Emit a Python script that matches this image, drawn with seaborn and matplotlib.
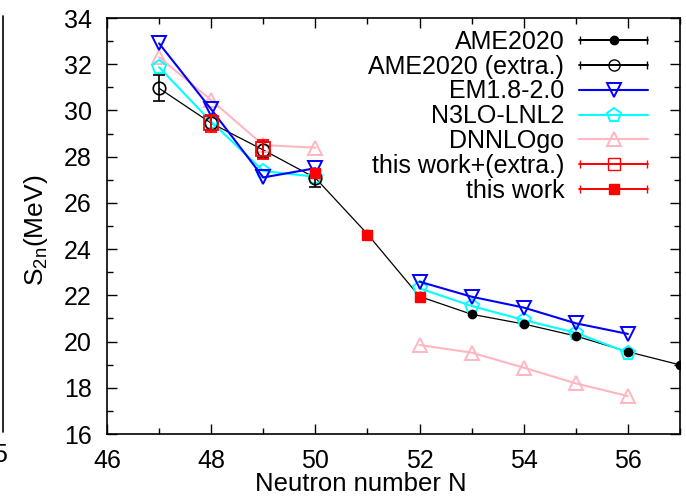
import numpy as np
import pandas as pd
import matplotlib
matplotlib.use("Agg")
import matplotlib.pyplot as plt
import seaborn as sns
from matplotlib.lines import Line2D
from matplotlib.collections import LineCollection
from matplotlib.container import ErrorbarContainer
from matplotlib.legend_handler import HandlerErrorbar
from matplotlib.ticker import MultipleLocator

# --- data ---
ame_N = [51, 52, 53, 54, 55, 56, 57]
ame_S = [24.65, 21.95, 21.18, 20.76, 20.24, 19.56, 18.99]
ame_err = [0.05, 0.05, 0.05, 0.05, 0.05, 0.05, 0.05]

ame_ex_N = [47, 48, 49, 50]
ame_ex_S = [30.96, 29.45, 28.29, 27.08]
ame_ex_err = [0.57, 0.30, 0.35, 0.40]

model_N = [47, 48, 49, 50, 52, 53, 54, 55, 56]
model_seg = [0, 0, 0, 0, 1, 1, 1, 1, 1]
em_S = [32.90, 30.05, 27.10, 27.50, 22.59, 21.94, 21.47, 20.79, 20.33]
n3lo_S = [31.87, 29.51, 27.38, 27.13, 22.30, 21.54, 20.93, 20.38, 19.52]
dnnlo_S = [32.30, 30.45, 28.50, 28.39, 19.85, 19.52, 18.87, 18.19, 17.64]

tw_ex_N = [48, 49]
tw_ex_S = [29.44, 28.32]
tw_ex_err = [0.38, 0.41]

tw_N = [50, 51, 52]
tw_S = [27.31, 24.60, 21.93]
tw_err = [0.10, 0.05, 0.05]

# --- style ---
sns.set_style("ticks")
plt.rcParams["font.family"] = ["Liberation Sans", "DejaVu Sans"]
plt.rcParams["mathtext.fontset"] = "custom"
plt.rcParams["mathtext.rm"] = "Liberation Sans"
plt.rcParams["mathtext.it"] = "Liberation Sans"
for k in ["text.color", "axes.labelcolor", "xtick.color", "ytick.color"]:
    plt.rcParams[k] = "black"

fig = plt.figure(figsize=(6.86, 4.96), dpi=100)
ax = fig.add_axes([107 / 686, 1 - 434 / 496, 573 / 686, 416 / 496])

# black AME2020 connecting line
ame_all = pd.DataFrame({"N": ame_ex_N + ame_N, "S": ame_ex_S + ame_S})
sns.lineplot(data=ame_all, x="N", y="S", color="black", lw=0.9, ax=ax, zorder=2)

# model curves (two segments, gap at N=51)
models = pd.DataFrame({"N": model_N, "seg": model_seg,
                       "EM": em_S, "N3LO": n3lo_S, "DNNLO": dnnlo_S})
styles = [("DNNLO", "#ffb6c1", "^"), ("N3LO", "#00ffff", "p"), ("EM", "#0000ff", "v")]
for col, c, m in styles:
    sns.lineplot(data=models, x="N", y=col, units="seg", estimator=None,
                 color=c, lw=1.5, marker=m, markersize=10, markerfacecolor="none",
                 markeredgecolor=c, markeredgewidth=1.4, ax=ax, zorder=3)

# points with error bars
ax.errorbar(ame_N, ame_S, yerr=ame_err, fmt="o", color="black", ms=6,
            capsize=3, elinewidth=1, zorder=5)
ax.errorbar(ame_ex_N, ame_ex_S, yerr=ame_ex_err, fmt="o", color="black", ms=9,
            mfc="none", mew=1.2, capsize=4, elinewidth=1.2, zorder=5)
ax.errorbar(tw_ex_N, tw_ex_S, yerr=tw_ex_err, fmt="s", color="red", ms=10,
            mfc="none", mew=1.3, capsize=4, elinewidth=1.3, zorder=6)
ax.errorbar(tw_N, tw_S, yerr=tw_err, fmt="s", color="red", ms=7,
            capsize=3, elinewidth=1.2, zorder=6)

# axes formatting
ax.set_xlim(46, 57)
ax.set_ylim(16, 34)
ax.xaxis.set_major_locator(MultipleLocator(2))
ax.xaxis.set_minor_locator(MultipleLocator(1))
ax.yaxis.set_major_locator(MultipleLocator(2))
ax.yaxis.set_minor_locator(MultipleLocator(1))
ax.tick_params(which="both", direction="in", top=True, right=True, labelsize=18,
               width=1, color="black", labelcolor="black")
ax.tick_params(which="major", length=7)
ax.tick_params(which="minor", length=4)
ax.tick_params(axis="x", pad=11)
ax.tick_params(axis="y", pad=11)
for s in ax.spines.values():
    s.set_linewidth(1.2)
    s.set_color("black")

ax.set_xlabel("Neutron number N", fontsize=18.5, color="black")
ax.xaxis.set_label_coords(0.443, -0.092)
ax.set_ylabel("S$_{2n}$(MeV)", fontsize=19, color="black")
ax.yaxis.set_label_coords(-0.1, 0.49)

# legend (gnuplot-like, text on the left)
def eb_handle(color, marker, ms, mfc):
    line = Line2D([], [], color=color, marker=marker, ms=ms, mfc=mfc, mec=color, lw=1.3)
    cap = Line2D([], [], color=color, lw=1.3)
    bar = LineCollection([], colors=color, linewidths=1.3)
    return ErrorbarContainer((line, (cap, cap), (bar,)), has_xerr=True, has_yerr=False)

h_ame = eb_handle("black", "o", 6, "black")
h_ame_ex = eb_handle("black", "o", 8, "none")
h_em = Line2D([], [], color="#0000ff", marker="v", ms=10, mfc="none", mew=1.4, lw=1.5)
h_n3 = Line2D([], [], color="#00ffff", marker="p", ms=10, mfc="none", mew=1.4, lw=1.5)
h_dn = Line2D([], [], color="#ffb6c1", marker="^", ms=10, mfc="none", mew=1.4, lw=1.5)
h_twex = eb_handle("red", "s", 9, "none")
h_tw = eb_handle("red", "s", 7, "red")

handles = [h_ame, h_ame_ex, h_em, h_n3, h_dn, h_twex, h_tw]
labels = ["AME2020", "AME2020 (extra.)", "EM1.8-2.0", "N3LO-LNL2",
          "DNNLOgo", "this work+(extra.)", "this work"]
leg = ax.legend(handles, labels, loc="upper right",
                bbox_to_anchor=((648 - 107) / 573, (434 - 30) / 416),
                frameon=False, markerfirst=False, fontsize=18, handlelength=2.75,
                handletextpad=0.6, labelspacing=0.03, borderpad=0, borderaxespad=0,
                numpoints=1,
                handler_map={ErrorbarContainer: HandlerErrorbar(xerr_size=1.35)})
for t in leg.get_texts():
    t.set_ha("right")
    t.set_color("black")
leg._legend_box.align = "right"

# fragment of neighbouring panel at left edge
fig.add_artist(Line2D([0.004, 0.004], [1 - 432 / 496, 1 - 16 / 496],
                      transform=fig.transFigure, color="black", lw=1.2))
fig.text(0.0, 1 - 455 / 496, "5", fontsize=18, ha="center", va="center")

fig.savefig("out.png", dpi=100)
